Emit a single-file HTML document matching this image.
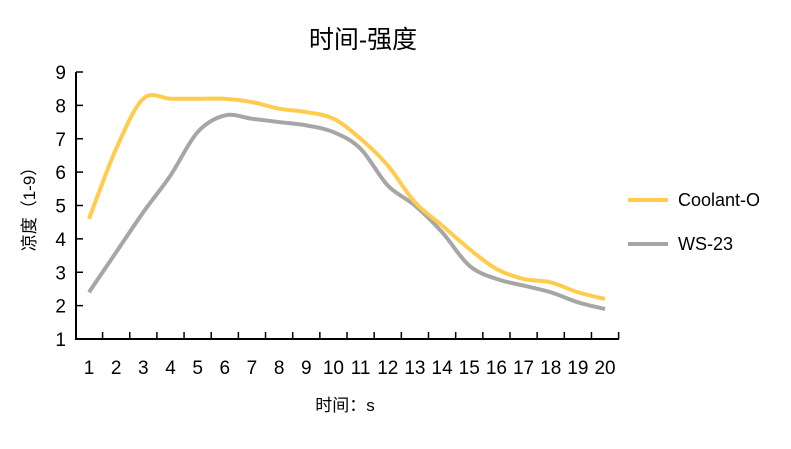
<!DOCTYPE html>
<html><head><meta charset="utf-8"><style>
body{margin:0;background:#fff;}
svg{display:block;font-family:"Liberation Sans","Noto Sans CJK SC",sans-serif;}
</style></head><body>
<svg id="s" width="791" height="449" viewBox="0 0 791 449">
<text x="363" y="48" font-size="25" text-anchor="middle" fill="#000">时间-强度</text>
<text x="345" y="411" font-size="17" text-anchor="middle" fill="#000">时间：s</text>
<text transform="translate(35,205) rotate(-90)" font-size="17" text-anchor="middle" fill="#000">凉度（1-9）</text>
<line x1="628" y1="200" x2="668" y2="200" stroke="#FFCC4D" stroke-width="4"/>
<text x="678" y="206" font-size="18">Coolant-O</text>
<line x1="628" y1="244" x2="668" y2="244" stroke="#A6A6A6" stroke-width="4"/>
<text x="678" y="250" font-size="18">WS-23</text>
<g id="g"></g>
</svg>
<script>
var g=document.getElementById('g'),h='';
function Y(v){return 339-(v-1)*33.375;}
function X(i){return 89+(i-1)*27.16;}
h+='<line x1="76" y1="72" x2="76" y2="340" stroke="#000" stroke-width="2"/>';
h+='<line x1="75" y1="339" x2="619" y2="339" stroke="#000" stroke-width="2"/>';
for(var v=1;v<=9;v++){h+='<line x1="76" y1="'+Y(v)+'" x2="83" y2="'+Y(v)+'" stroke="#000" stroke-width="1.5"/>';
h+='<text x="66" y="'+(Y(v)+7)+'" font-size="19" text-anchor="end">'+v+'</text>';}
for(var i=1;i<=20;i++){var tx=X(i)+13.58;h+='<line x1="'+tx+'" y1="339" x2="'+tx+'" y2="332" stroke="#000" stroke-width="1.5"/>';
h+='<text x="'+X(i)+'" y="374" font-size="19" text-anchor="middle">'+i+'</text>';}
function path(d,c){var p=d.map(function(v,i){return [X(i+1),Y(v)];});var s='M'+p[0];
for(var i=0;i<p.length-1;i++){var p0=p[i-1]||p[i],p1=p[i],p2=p[i+1],p3=p[i+2]||p2;
var c1=[p1[0]+(p2[0]-p0[0])/6,p1[1]+(p2[1]-p0[1])/6],c2=[p2[0]-(p3[0]-p1[0])/6,p2[1]-(p3[1]-p1[1])/6];
s+='C'+c1+' '+c2+' '+p2;}
return '<path d="'+s+'" fill="none" stroke="'+c+'" stroke-width="4" stroke-linejoin="round"/>';}
h+=path([2.4,3.6,4.8,5.9,7.2,7.7,7.6,7.5,7.4,7.2,6.7,5.6,5.0,4.2,3.2,2.8,2.6,2.4,2.1,1.9],'#A6A6A6');
h+=path([4.6,6.7,8.2,8.2,8.2,8.2,8.1,7.9,7.8,7.6,7.0,6.2,5.1,4.4,3.7,3.1,2.8,2.7,2.4,2.2],'#FFCC4D');
g.innerHTML=h;
</script>
</body></html>
